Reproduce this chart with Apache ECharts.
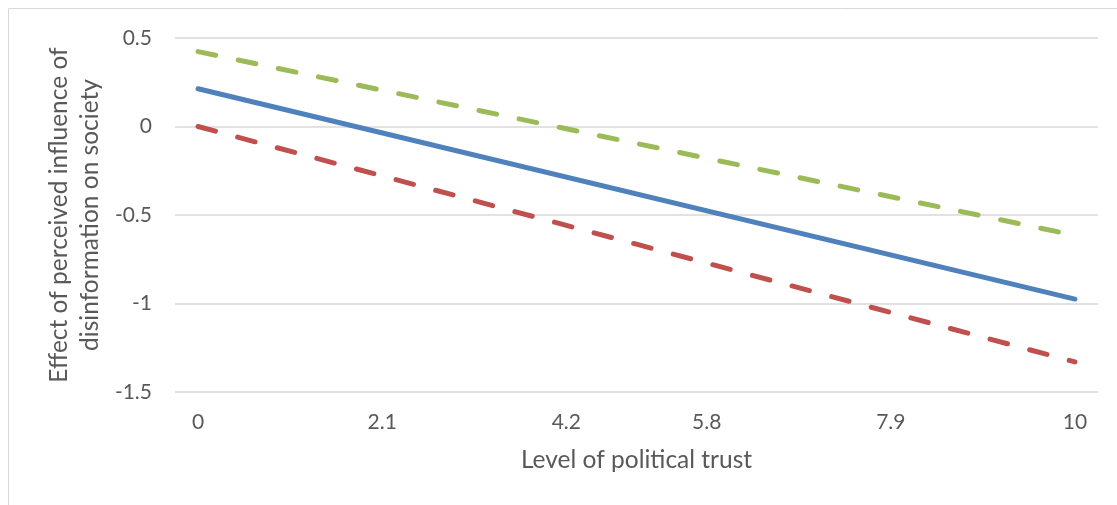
<!DOCTYPE html>
<html>
<head>
<meta charset="utf-8">
<script src="https://cdn.jsdelivr.net/npm/echarts@6/dist/echarts.min.js"></script>
<style>
  html, body { margin: 0; padding: 0; background: #ffffff; }
  #chart { width: 1117px; height: 505px; }
</style>
</head>
<body>
<div id="chart"></div>
<script>
// Level of political trust: labelled positions on the x axis
const trustTicks = [0, 2.1, 4.2, 5.8, 7.9, 10];
// Range of the trust scale covered by each line
const trustRange = [0, 10];
// Estimated effect at the low and high ends of the trust scale
const effectEstimate = [0.213, -0.975];
const upperBound = [0.423, -0.615];
const lowerBound = [0.0, -1.330];
// Y axis ticks
const effectTicks = [-1.5, -1, -0.5, 0, 0.5];

const textColor = '#595959';
const fontFamily = 'Lato, "Open Sans", sans-serif';

function toPoints(values) {
  return trustRange.map((x, i) => [x, values[i]]);
}

const chart = echarts.init(document.getElementById('chart'), null, { renderer: 'canvas' });

chart.setOption({
  backgroundColor: '#ffffff',
  animation: false,
  graphic: [{
    type: 'rect',
    shape: { x: 8.5, y: 8.5, width: 1200, height: 600 },
    style: { fill: 'none', stroke: '#d9d9d9', lineWidth: 1 },
    silent: true,
    z: -1
  }],
  grid: { left: 175, right: 19, top: 38, bottom: 113 },
  xAxis: {
    type: 'value',
    // half a category slot of padding on either side of the 0-10 scale
    min: -0.263,
    max: 10.263,
    name: 'Level of political trust',
    nameLocation: 'middle',
    nameGap: 56,
    nameMoveOverlap: false,
    nameTextStyle: { color: textColor, fontSize: 24.5, fontFamily: fontFamily },
    axisLine: { show: false },
    axisTick: { show: false },
    splitLine: { show: false },
    axisLabel: {
      customValues: trustTicks,
      color: textColor,
      fontSize: 21,
      fontFamily: fontFamily,
      margin: 20,
      formatter: v => String(v)
    }
  },
  yAxis: {
    type: 'value',
    min: effectTicks[0],
    max: effectTicks[effectTicks.length - 1],
    interval: 0.5,
    name: 'Effect of perceived influence of\ndisinformation on society',
    nameLocation: 'middle',
    nameGap: 69,
    nameMoveOverlap: false,
    nameTextStyle: { color: textColor, fontSize: 24.5, fontFamily: fontFamily, lineHeight: 31, align: 'center' },
    axisLine: { show: false },
    axisTick: { show: false },
    splitLine: { lineStyle: { color: '#d9d9d9', width: 1.5 } },
    axisLabel: {
      color: textColor,
      fontSize: 21,
      fontFamily: fontFamily,
      margin: 23,
      formatter: v => String(v)
    }
  },
  series: [
    {
      name: 'Upper bound',
      type: 'line',
      data: toPoints(upperBound),
      showSymbol: false,
      lineStyle: { color: '#9bbb59', width: 5, type: [18, 23], cap: 'round' },
      z: 2
    },
    {
      name: 'Estimate',
      type: 'line',
      data: toPoints(effectEstimate),
      showSymbol: false,
      lineStyle: { color: '#4f81bd', width: 5, cap: 'round' },
      z: 3
    },
    {
      name: 'Lower bound',
      type: 'line',
      data: toPoints(lowerBound),
      showSymbol: false,
      lineStyle: { color: '#c0504d', width: 5, type: [18, 23], cap: 'round' },
      z: 2
    }
  ]
});
</script>
</body>
</html>
